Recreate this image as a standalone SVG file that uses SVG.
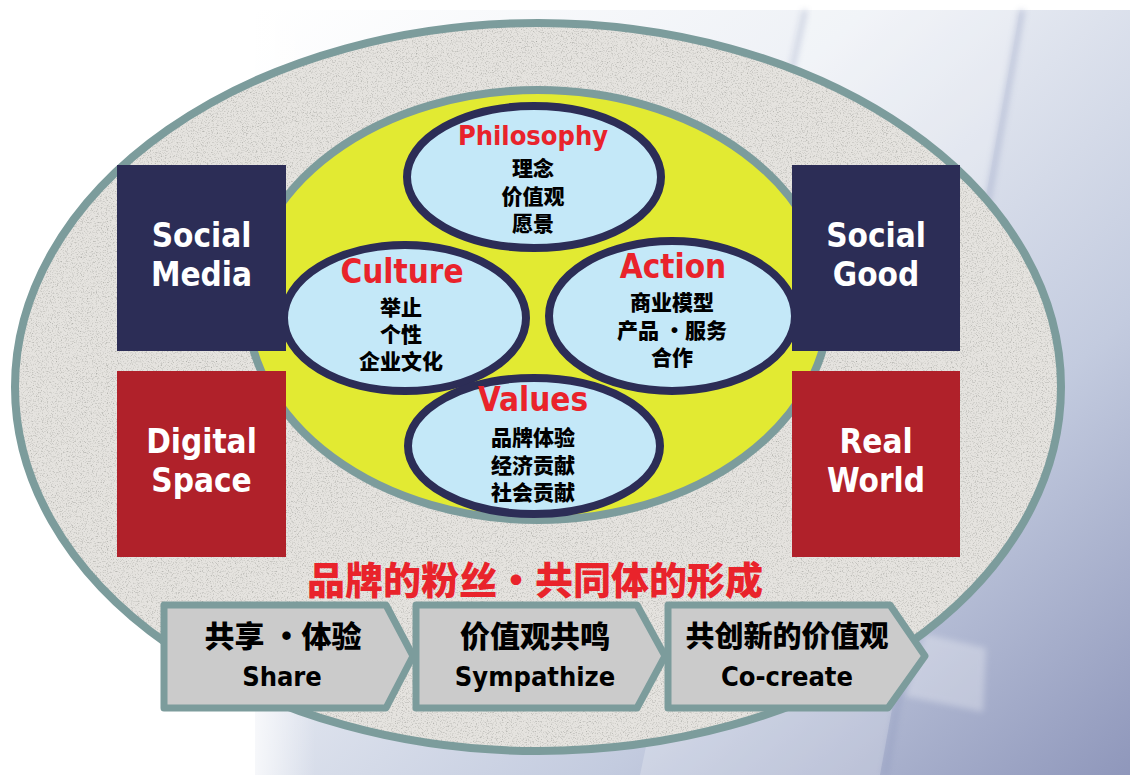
<svg xmlns="http://www.w3.org/2000/svg" width="1130" height="775" viewBox="0 0 1130 775">
<defs>
  <linearGradient id="bg" x1="0" y1="0" x2="1" y2="1">
    <stop offset="0" stop-color="#ffffff"/>
    <stop offset="0.35" stop-color="#eef1f6"/>
    <stop offset="0.7" stop-color="#c3cbdf"/>
    <stop offset="1" stop-color="#8f97bb"/>
  </linearGradient>
  <linearGradient id="fadeL" x1="0" y1="0" x2="1" y2="0">
    <stop offset="0" stop-color="#ffffff" stop-opacity="1"/>
    <stop offset="1" stop-color="#ffffff" stop-opacity="0"/>
  </linearGradient>
  <filter id="granite" x="0" y="0" width="100%" height="100%" color-interpolation-filters="sRGB">
    <feTurbulence type="fractalNoise" baseFrequency="0.8" numOctaves="3" seed="7" result="n"/>
    <feColorMatrix in="n" type="matrix" values="0 0 0 0 0.66  0 0 0 0 0.66  0 0 0 0 0.64  2.2 0 0 0 -1.12" result="sp"/>
    <feComposite in="sp" in2="SourceGraphic" operator="in" result="spc"/>
    <feMerge><feMergeNode in="SourceGraphic"/><feMergeNode in="spc"/></feMerge>
  </filter>
  <filter id="soft"><feGaussianBlur stdDeviation="3"/></filter>
  <style>
    .ring{fill:none;stroke:#7c9c9c;stroke-width:8}
    .oval{fill:#c4e8f8;stroke:#2c2d56;stroke-width:8}
    .en{font-family:'DejaVu Sans Condensed','DejaVu Sans',sans-serif;font-weight:bold;text-anchor:middle}
    .zh{font-family:'Noto Sans CJK SC','Noto Sans',sans-serif;font-weight:900;text-anchor:middle;fill:#000}
    .red{fill:#e9232b}
    .wht{fill:#ffffff;font-size:33px}
    .sub{font-size:21px}
    .chev{fill:#cbcbcb;stroke:#7c9c9c;stroke-width:7;stroke-linejoin:round}
  </style>
</defs>

<g id="background">
  <rect x="0" y="0" width="1130" height="775" fill="#ffffff"/>
  <rect x="255" y="10" width="875" height="765" fill="url(#bg)"/>
  <rect x="235" y="10" width="80" height="765" fill="url(#fadeL)"/>
  <polygon points="800,10 1020,10 880,775 640,775" fill="#ffffff" opacity="0.22"/>
  <line x1="1022" y1="10" x2="885" y2="775" stroke="#8d98bd" stroke-width="6" opacity="0.4" filter="url(#soft)"/>
  <line x1="805" y1="10" x2="740" y2="300" stroke="#9aa4c4" stroke-width="5" opacity="0.45" filter="url(#soft)"/>
  <polygon points="925,634 986,648 983,712 905,696" fill="#ffffff" opacity="0.3" filter="url(#soft)"/>
</g>

<g id="outer-ellipse">
  <ellipse cx="538" cy="387" rx="523" ry="364" fill="#e5e3df" filter="url(#granite)"/>
  <ellipse cx="538" cy="387" rx="523" ry="364" class="ring"/>
</g>

<g id="inner-ellipse">
  <ellipse cx="538" cy="305" rx="291" ry="215" class="ring" style="fill:#e2ea32"/>
</g>

<g id="philosophy">
  <ellipse cx="534" cy="177" rx="127" ry="71" class="oval"/>
  <text x="533" y="145" class="en red" font-size="27">Philosophy</text>
  <text x="533" y="176" class="zh sub">理念</text>
  <text x="533" y="204" class="zh sub">价值观</text>
  <text x="533" y="231" class="zh sub">愿景</text>
</g>

<g id="culture">
  <ellipse cx="405" cy="318" rx="121" ry="73" class="oval"/>
  <text x="402" y="283" class="en red" font-size="33">Culture</text>
  <text x="401" y="315" class="zh sub">举止</text>
  <text x="401" y="342" class="zh sub">个性</text>
  <text x="401" y="369" class="zh sub">企业文化</text>
</g>

<g id="action">
  <ellipse cx="672" cy="316" rx="123" ry="75" class="oval"/>
  <text x="673" y="278" class="en red" font-size="33">Action</text>
  <text x="672" y="310" class="zh sub">商业模型</text>
  <text x="672" y="338" class="zh sub">产品 ・服务</text>
  <text x="672" y="365" class="zh sub">合作</text>
</g>

<g id="values">
  <ellipse cx="534" cy="446" rx="126" ry="68" class="oval"/>
  <text x="533" y="411" class="en red" font-size="33">Values</text>
  <text x="533" y="445" class="zh sub">品牌体验</text>
  <text x="533" y="473" class="zh sub">经济贡献</text>
  <text x="533" y="500" class="zh sub">社会贡献</text>
</g>

<g id="social-media">
  <rect x="117" y="165" width="169" height="186" fill="#2c2d56"/>
  <text x="201.5" y="247" class="en wht">Social</text>
  <text x="201.5" y="286" class="en wht">Media</text>
</g>
<g id="digital-space">
  <rect x="117" y="371" width="169" height="186" fill="#b0212a"/>
  <text x="201.5" y="453" class="en wht">Digital</text>
  <text x="201.5" y="492" class="en wht">Space</text>
</g>
<g id="social-good">
  <rect x="792" y="165" width="168" height="186" fill="#2c2d56"/>
  <text x="876" y="247" class="en wht">Social</text>
  <text x="876" y="286" class="en wht">Good</text>
</g>
<g id="real-world">
  <rect x="792" y="371" width="168" height="186" fill="#b0212a"/>
  <text x="876" y="453" class="en wht">Real</text>
  <text x="876" y="492" class="en wht">World</text>
</g>

<g id="title">
  <text x="535" y="594" class="zh" style="fill:#e9232b" font-size="38">品牌的粉丝・共同体的形成</text>
</g>

<g id="connectors"/>

<g id="share">
  <path d="M164,605 L386,605 L413,656 L386,708 L164,708 Z" class="chev"/>
  <text x="283" y="647" class="zh" font-size="30">共享 ・体验</text>
  <text x="282" y="686" class="en" font-size="27" fill="#000">Share</text>
</g>
<g id="sympathize">
  <path d="M416,605 L637,605 L665,656 L637,708 L416,708 Z" class="chev"/>
  <text x="535" y="647" class="zh" font-size="30">价值观共鸣</text>
  <text x="535" y="686" class="en" font-size="27" fill="#000">Sympathize</text>
</g>
<g id="co-create">
  <path d="M668,605 L890,605 L925,656 L888,708 L668,708 Z" class="chev"/>
  <text x="787" y="647" class="zh" font-size="29">共创新的价值观</text>
  <text x="787" y="686" class="en" font-size="27" fill="#000">Co-create</text>
</g>
</svg>
